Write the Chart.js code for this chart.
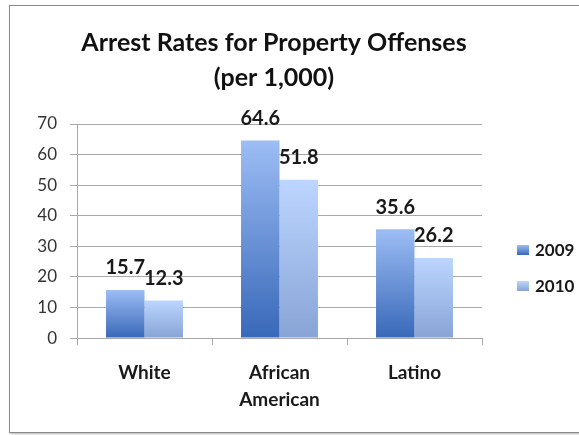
<!DOCTYPE html>
<html>
<head>
<meta charset="utf-8">
<script src="https://cdn.jsdelivr.net/npm/chart.js@4.4.0/dist/chart.umd.min.js"></script>
<style>
  html, body { margin: 0; padding: 0; background: #fff; overflow: hidden; }
  #frame { position: absolute; left: 9px; top: 5px; width: 640px; height: 426px; border: 1px solid #8c8c8c; box-shadow: 1px 1px 2px rgba(0,0,0,0.3); }
  #wrap { position: absolute; left: 0; top: 0; width: 579px; height: 435px; }
</style>
</head>
<body>
<div id="frame"></div>
<div id="wrap"><canvas id="chart" width="579" height="435"></canvas></div>
<script>
const categories = ['White', ['African', 'American'], 'Latino'];
const years = ['2009', '2010'];
const rates2009 = [15.7, 64.6, 35.6];
const rates2010 = [12.3, 51.8, 26.2];
const yTicks = [0, 10, 20, 30, 40, 50, 60, 70];

// top / bottom of each bar's vertical gradient
const shades = {
  '2009': ['#9dbdf5', '#3868b8'],
  '2010': ['#bcd6ff', '#88a4d6']
};

const font = 'Lato';

function barFill(year) {
  return (c) => {
    const chart = c.chart;
    if (c.type !== 'data' || !chart.scales.y) return shades[year][1];
    const y = chart.scales.y;
    const top = y.getPixelForValue(c.raw);
    const base = y.getPixelForValue(0);
    if (!isFinite(top) || !isFinite(base)) return shades[year][1];
    const g = chart.ctx.createLinearGradient(0, top, 0, base);
    g.addColorStop(0, shades[year][0]);
    g.addColorStop(1, shades[year][1]);
    return g;
  };
}

const valueLabels = {
  id: 'valueLabels',
  afterDatasetsDraw(chart) {
    const ctx = chart.ctx;
    ctx.save();
    ctx.font = `bold 20px ${font}`;
    ctx.fillStyle = '#1a1a1a';
    ctx.textAlign = 'center';
    ctx.textBaseline = 'middle';
    chart.data.datasets.forEach((ds, i) => {
      chart.getDatasetMeta(i).data.forEach((bar, j) => {
        ctx.fillText(ds.data[j].toFixed(1), bar.x, bar.y - 22);
      });
    });
    ctx.restore();
  }
};

const sideLegend = {
  id: 'sideLegend',
  afterDraw(chart) {
    const ctx = chart.ctx;
    const area = chart.chartArea;
    ctx.save();
    ctx.font = `bold 17px ${font}`;
    ctx.textAlign = 'left';
    ctx.textBaseline = 'middle';
    chart.data.datasets.forEach((ds, i) => {
      const x = area.right + 35;
      const y = 250 + i * 36;
      const g = ctx.createLinearGradient(0, y - 5, 0, y + 5);
      g.addColorStop(0, shades[ds.label][0]);
      g.addColorStop(1, shades[ds.label][1]);
      ctx.fillStyle = g;
      ctx.fillRect(x, y - 5, 12, 10);
      ctx.fillStyle = '#1a1a1a';
      ctx.fillText(ds.label, x + 18, y + 1);
    });
    ctx.restore();
  }
};

new Chart(document.getElementById('chart'), {
  type: 'bar',
  data: {
    labels: categories,
    datasets: [
      { label: years[0], data: rates2009, backgroundColor: barFill(years[0]) },
      { label: years[1], data: rates2010, backgroundColor: barFill(years[1]) }
    ]
  },
  options: {
    responsive: false,
    animation: false,
    events: [],
    layout: { padding: { top: 0, right: 31, bottom: 8, left: 0 } },
    datasets: { bar: { barPercentage: 1, categoryPercentage: 0.57, borderWidth: 0 } },
    plugins: {
      legend: { display: false },
      tooltip: { enabled: false },
      title: {
        display: true,
        text: ['Arrest Rates for Property Offenses', '(per 1,000)'],
        color: '#111',
        font: { family: font, size: 25, weight: 'bold', lineHeight: 1.4 },
        padding: { top: 25, bottom: 29 }
      }
    },
    scales: {
      x: {
        grid: { drawOnChartArea: false, offset: true, tickLength: 7, color: '#a9a9a9' },
        border: { color: '#a9a9a9' },
        ticks: {
          color: '#1a1a1a',
          padding: 14,
          maxRotation: 0,
          font: { family: font, size: 19, weight: 'bold', lineHeight: 1.42 }
        }
      },
      y: {
        min: 0,
        max: 70,
        afterBuildTicks: (s) => { s.ticks = yTicks.map((v) => ({ value: v })); },
        afterFit: (s) => { s.width = 77; },
        grid: { color: '#a9a9a9', tickLength: 7 },
        border: { color: '#a9a9a9' },
        ticks: { color: '#333', padding: 13, font: { family: font, size: 17 } }
      },
      // empty right-hand strip that holds the legend
      side: {
        position: 'right',
        min: 0,
        max: 70,
        afterFit: (s) => { s.width = 66; },
        grid: { display: false },
        border: { display: false },
        ticks: { display: false }
      }
    }
  },
  plugins: [valueLabels, sideLegend]
});
</script>
</body>
</html>
